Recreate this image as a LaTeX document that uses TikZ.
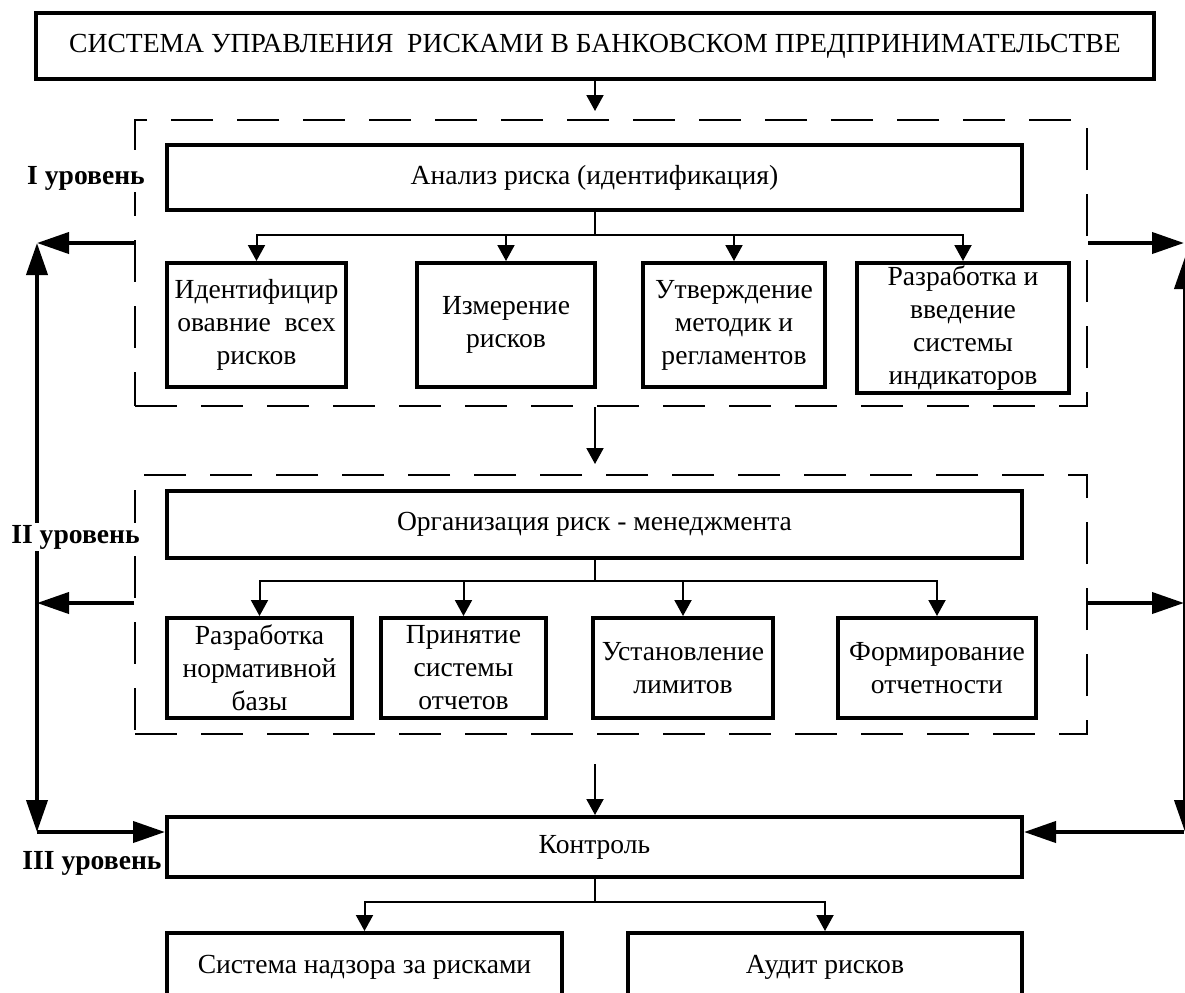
\documentclass[tikz,border=0pt]{standalone}
\usepackage{fontspec}
\setmainfont{Liberation Serif}
\usetikzlibrary{arrows.meta,calc}

\begin{document}
\begin{tikzpicture}[x=0.5pt,y=-0.5pt,
    font=\fontsize{13.8}{16.5}\selectfont,
    box/.style={draw,line width=2pt,align=center,inner sep=0pt},
    frame/.style={draw,line width=1pt,dash pattern=on 21pt off 12pt},
    link/.style={line width=1pt,-{Triangle[length=8pt,width=8.5pt]}},
    feed/.style={line width=2pt,-{Triangle[length=16pt,width=10.5pt]}},
    feedboth/.style={line width=2pt,{Triangle[length=16pt,width=10.5pt]}-{Triangle[length=16pt,width=10.5pt]}},
    level/.style={font=\fontsize{13.8}{16.5}\selectfont\bfseries,fill=white,inner sep=1pt}]
        \useasboundingbox (0,0) rectangle (1185,992);

        \node[box,minimum width=559pt,minimum height=33pt] (title) at (595,46) {СИСТЕМА УПРАВЛЕНИЯ \ РИСКАМИ В БАНКОВСКОМ ПРЕДПРИНИМАТЕЛЬСТВЕ};

        % I level
        \node[frame,minimum width=476pt,minimum height=143pt] (d1) at (611,263) {};
        \node[box,minimum width=427.5pt,minimum height=32.5pt] (analiz) at (594.5,177.5) {Анализ риска (идентификация)};
        \node[box,minimum width=89.5pt,minimum height=62pt] (i1) at (256.5,325) {Идентифицир\\овавние \ всех\\рисков};
        \node[box,minimum width=89pt,minimum height=62pt] (i2) at (506,325) {Измерение\\рисков};
        \node[box,minimum width=91pt,minimum height=62pt] (i3) at (734,325) {Утверждение\\методик и\\регламентов};
        \node[box,minimum width=106pt,minimum height=65pt] (i4) at (963,328) {Разработка и\\введение\\системы\\индикаторов};

        % II level
        \node[frame,minimum width=476pt,minimum height=129.5pt] (d2) at (611,604.5) {};
        \node[box,minimum width=427.5pt,minimum height=33.5pt] (org) at (594.5,524.5) {Организация риск - менеджмента};
        \node[box,minimum width=92.5pt,minimum height=50pt] (o1) at (259.5,668) {Разработка\\нормативной\\базы};
        \node[box,minimum width=82.5pt,minimum height=50pt] (o2) at (463.5,668) {Принятие\\системы\\отчетов};
        \node[box,minimum width=90pt,minimum height=50pt] (o3) at (683,668) {Установление\\лимитов};
        \node[box,minimum width=99pt,minimum height=50pt] (o4) at (937,668) {Формирование\\отчетности};

        % III level
        \node[box,minimum width=427.5pt,minimum height=30pt] (kontrol) at (594.5,847) {Контроль};
        \node[box,minimum width=197.5pt,minimum height=34pt] (b1) at (364.5,967) {Система надзора за рисками};
        \node[box,minimum width=197pt,minimum height=34pt] (b2) at (825,967) {Аудит рисков};

        \coordinate (brI) at (0,235);
        \coordinate (brII) at (0,581);
        \coordinate (brIII) at (0,902);

        \draw[link,shorten >=4pt] (title.south) -- (title.south |- d1.north);
        \draw[link,shorten >=5pt] (title.south |- d1.south) -- (title.south |- d2.north);
        \draw[link,shorten <=14.5pt] (title.south |- d2.south) -- (title.south |- kontrol.north);

        \foreach \n in {i1,i2,i3,i4}
            \draw[link] (analiz.south) |- (brI -| \n.north) -- (\n.north);
        \foreach \n in {o1,o2,o3,o4}
            \draw[link] (org.south) |- (brII -| \n.north) -- (\n.north);
        \foreach \n in {b1,b2}
            \draw[link] (kontrol.south) |- (brIII -| \n.north) -- (\n.north);

        % feedback lines
        \coordinate (L1) at (37,243);
        \coordinate (L2) at (37,603);
        \coordinate (L3) at (37,832);
        \coordinate (R1) at (1184,243);
        \coordinate (R2) at (1184,603);
        \coordinate (R3) at (1184,832);

        \draw[feed] (d1.west |- L1) -- (L1);
        \draw[feed] (d2.west |- L2) -- (L2);
        \draw[feed] (d1.east |- R1) -- (R1);
        \draw[feed] (d2.east |- R2) -- (R2);
        \draw[feedboth] (L1) -- (L3);
        \draw[feedboth] ([xshift=0.5pt,yshift=-7pt]R1) -- ([xshift=0.5pt]R3);
        \draw[feed] (L3) -- (kontrol.west |- L3);
        \draw[feed] (R3) -- (kontrol.east |- R3);

        \node[level] at (86,178) {I уровень};
        \node[level] at (75.5,537) {II уровень};
        \node[level] at (92,863) {III уровень};
\end{tikzpicture}
\end{document}
